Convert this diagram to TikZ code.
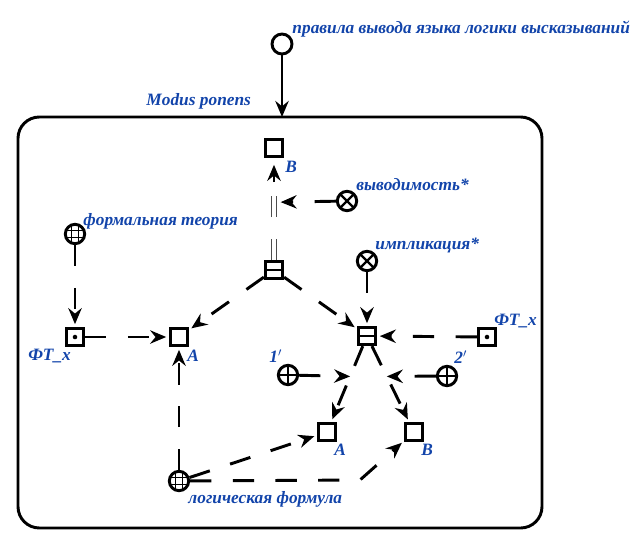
\documentclass[tikz,border=0pt]{standalone}
\usepackage{fontspec}
\setmainfont{Liberation Serif}
\usetikzlibrary{arrows.meta, positioning, calc}
\definecolor{scgblue}{RGB}{18,68,170}

\begin{document}
\begin{tikzpicture}[
    x=0.75pt, y=-0.75pt,
    line width=2.2pt,
    lbl/.style={font=\fontsize{13pt}{15pt}\selectfont\bfseries\itshape, text=scgblue, inner sep=0pt, anchor=base west},
    sq/.style={rectangle, draw, minimum size=13pt, inner sep=0pt},
    pairbox/.style={sq, path picture={\draw[line width=1.8pt] (path picture bounding box.west) -- (path picture bounding box.east);}},
    dotbox/.style={sq, path picture={\fill (path picture bounding box.center) circle (1.7pt);}},
    cls/.style={circle, draw, minimum size=14.5pt, inner sep=0pt},
    cross/.style={cls, path picture={\draw[line width=1.8pt] (path picture bounding box.north west) -- (path picture bounding box.south east) (path picture bounding box.north east) -- (path picture bounding box.south west);}},
    plus/.style={cls, path picture={\draw[line width=1.8pt] (path picture bounding box.north) -- (path picture bounding box.south) (path picture bounding box.west) -- (path picture bounding box.east);}},
    globe/.style={cls, path picture={
        \foreach \d in {-2.6pt, 2.6pt} {
            \draw[line width=1.1pt] ([xshift=\d]path picture bounding box.north) -- ([xshift=\d]path picture bounding box.south);
            \draw[line width=1.1pt] ([yshift=\d]path picture bounding box.west) -- ([yshift=\d]path picture bounding box.east);
        }}},
    arc/.style={-{Stealth[length=12pt, width=10pt, inset=4pt]}, shorten >=2pt},
    dashedarc/.style={arc, dash pattern=on 16pt off 16pt},
    dbl/.style={draw=black!70, line width=0.7pt, double=white, double distance=2.4pt, dash pattern=on 16pt off 16pt},
]
\useasboundingbox (0,0) rectangle (643,536);

% contour
\draw[rounded corners=16pt] (18,117) rectangle (542,528);
\coordinate (contourTop) at (282,117);
\node[lbl] at (145,105) {Modus ponens};

% outer node
\node[cls, minimum size=15pt] (rules) at (282,44) {};
\node[lbl] at (291,33) {правила вывода языка логики высказываний};
\draw[arc, shorten >=0pt] (rules) -- (contourTop);

% nodes inside
\node[sq] (bTop) at (274,148) {};
\node[cross] (deduc) at (347,201) {};
\node[globe] (ftheory) at (75,234) {};
\node[cross] (impl) at (367,261) {};
\node[pairbox] (pairOne) at (274,270) {};
\node[dotbox] (ftxL) at (75,337) {};
\node[sq] (aLeft) at (179,337) {};
\node[pairbox] (pairTwo) at (367,336) {};
\node[dotbox] (ftxR) at (487,337) {};
\node[plus] (one) at (288,375) {};
\node[plus] (two) at (447,376) {};
\node[sq] (aLow) at (327,432) {};
\node[sq] (bLow) at (414,432) {};
\node[globe] (lform) at (179,481) {};
\coordinate (bStem) at (274,182);
\coordinate (bend) at (360,480);

% labels
\node[lbl] at (284,172) {B};
\node[lbl] at (355,190) {выводимость*};
\node[lbl] at (82,225) {формальная теория};
\node[lbl] at (374,249) {импликация*};
\node[lbl] at (27,360) {ФТ\_x};
\node[lbl] at (186,361) {A};
\node[lbl] at (493,325) {ФТ\_x};
\node[lbl] at (268,362) {1$'$};
\node[lbl] at (453,363) {2$'$};
\node[lbl] at (333,455) {A};
\node[lbl] at (420,455) {B};
\node[lbl] at (187,503) {логическая формула};

% connectors
\draw[dbl] (pairOne) -- coordinate[pos=0.74] (deducPt) (bStem);
\draw[arc, shorten >=5pt] (bStem) -- (bTop);
\draw[dashedarc, shorten >=5pt] (deduc) -- (deducPt);
\draw[dashedarc] (ftheory) -- (ftxL);
\draw[dashedarc] (ftxL) -- (aLeft);
\draw[dashedarc] (pairOne) -- (aLeft);
\draw[dashedarc] (pairOne) -- (pairTwo);
\draw[dashedarc] (impl) -- (pairTwo);
\draw[dashedarc] (ftxR) -- (pairTwo);
\draw[dashedarc] (pairTwo) -- coordinate[pos=0.4] (roleOne) (aLow);
\draw[dashedarc] (pairTwo) -- coordinate[pos=0.4] (roleTwo) (bLow);
\draw[dashedarc, shorten >=0pt] (one) -- (roleOne);
\draw[dashedarc, shorten >=0pt] (two) -- (roleTwo);
\draw[dashedarc] (lform) -- (aLeft);
\draw[dashedarc] (lform) -- (aLow);
\draw[dashedarc] (lform) -- (bend) -- (bLow);

\end{tikzpicture}
\end{document}
